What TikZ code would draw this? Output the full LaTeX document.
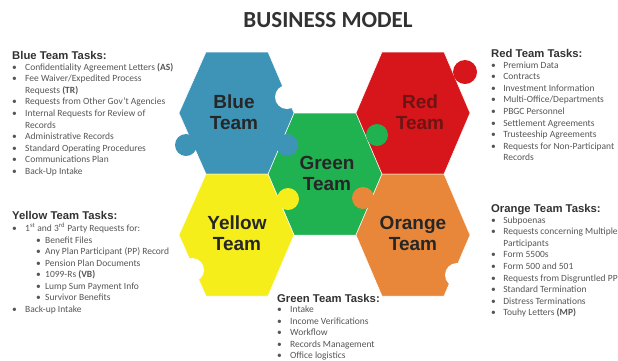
\documentclass[tikz,border=0pt]{standalone}
\usepackage{fontspec}
\setmainfont{Carlito}
\newfontfamily\headfont{Liberation Sans}
\usetikzlibrary{positioning}

\definecolor{bluepc}{RGB}{62,148,183}
\definecolor{redpc}{RGB}{214,22,26}
\definecolor{greenpc}{RGB}{32,178,80}
\definecolor{yellowpc}{RGB}{246,238,26}
\definecolor{orangepc}{RGB}{232,135,58}
\definecolor{headgray}{RGB}{50,50,50}
\definecolor{itemgray}{RGB}{85,85,85}
\definecolor{redlabel}{RGB}{110,20,20}

\newcommand{\bul}[1][13pt]{\makebox[#1][l]{\textbullet}}
\newcommand{\subbul}{\hspace*{24pt}\makebox[9pt][l]{\textbullet}}
\newcommand{\cont}[1][13pt]{\hspace*{#1}}

\tikzset{
    piece/.style={draw=white, line width=0.5pt},
    teamlabel/.style={font=\headfont\bfseries\fontsize{19}{21}\selectfont, align=center, text=black!85, inner sep=0pt},
    taskhead/.style={font=\headfont\bfseries\fontsize{11.3}{13}\selectfont, text=headgray, anchor=base west, inner sep=0pt},
    tasklist/.style={font=\fontsize{9.5}{11.55}\selectfont, text=itemgray, align=left, inner sep=0pt}
}

\begin{document}
\begin{tikzpicture}[x=1pt, y=-1pt]
            \useasboundingbox (0,0) rectangle (618,360);
            % hexagon pieces
            \fill [greenpc, piece] (325,174) ++(-57,0) -- ++(26,-61) -- ++(62,0) -- ++(26,61) -- ++(-26,61) -- ++(-62,0) -- cycle;
            \fill [bluepc, piece] (237,113) ++(-58,0) -- ++(27,-61) -- ++(62,0) -- ++(26,61) -- ++(-26,61) -- ++(-62,0) -- cycle;
            \fill [yellowpc, piece] (237,235) ++(-58,0) -- ++(27,-61) -- ++(62,0) -- ++(26,61) -- ++(-26,61) -- ++(-62,0) -- cycle;
            \fill [redpc, piece] (413,113) ++(-57,0) -- ++(26,-61) -- ++(62,0) -- ++(26,61) -- ++(-26,61) -- ++(-62,0) -- cycle;
            \fill [orangepc, piece] (413,235) ++(-57,0) -- ++(26,-61) -- ++(62,0) -- ++(26,61) -- ++(-26,61) -- ++(-62,0) -- cycle;
            % knobs
            \fill [bluepc] (186,145) circle (11pt);
            \fill [bluepc] (287,145) circle (11pt);
            \fill [greenpc] (377,135) circle (11pt);
            \fill [yellowpc] (288,199) circle (11pt);
            \fill [orangepc] (363,198) circle (11pt);
            \fill [redpc] (465,72) circle (12pt);
            % notches
            \fill [white] (287,97) circle (12pt);
            \fill [white] (457,275) circle (12pt);
            \fill [white] (192,270) circle (12pt);
            % labels
            \node [teamlabel] (bluename) at (234,112) {Blue\\Team};
            \node [teamlabel, text=redlabel] (redname) at (420,112) {Red\\Team};
            \node [teamlabel] (greenname) at (327,173) {Green\\Team};
            \node [teamlabel] (yellowname) at (237,233) {Yellow\\Team};
            \node [teamlabel] (orangename) at (413,233) {Orange\\Team};
            \node [font=\bfseries\fontsize{23}{26}\selectfont, text=headgray, inner sep=0pt] (title) at (328,20) {BUSINESS MODEL};
            % task lists
            \node [taskhead] (bluehead) at (12,59) {Blue Team Tasks:};
            \node [tasklist, below=3pt of bluehead.base west, anchor=north west] (bluelist) {\strut\bul Confidentiality Agreement Letters \textbf{(AS)}\\
                \bul Fee Waiver/Expedited Process\\
                \cont Requests \textbf{(TR)}\\
                \bul Requests from Other Gov't Agencies\\
                \bul Internal Requests for Review of\\
                \cont Records\\
                \bul Administrative Records\\
                \bul Standard Operating Procedures\\
                \bul Communications Plan\\
                \bul Back-Up Intake};
            \node [taskhead] (yellowhead) at (12,219) {Yellow Team Tasks:};
            \node [tasklist, below=4pt of yellowhead.base west, anchor=north west] (yellowlist) {\strut\bul 1\textsuperscript{st} and 3\textsuperscript{rd} Party Requests for:\\
                \subbul Benefit Files\\
                \subbul Any Plan Participant (PP) Record\\
                \subbul Pension Plan Documents\\
                \subbul 1099-Rs \textbf{(VB)}\\
                \subbul Lump Sum Payment Info\\
                \subbul Survivor Benefits\\
                \bul Back-up Intake};
            \node [taskhead] (redhead) at (491,57) {Red Team Tasks:};
            \node [tasklist, below=3pt of redhead.base west, anchor=north west] (redlist) {\strut\bul[10pt] Premium Data\\
                \bul[10pt] Contracts\\
                \bul[10pt] Investment Information\\
                \bul[10pt] Multi-Office/Departments\\
                \bul[10pt] PBGC Personnel\\
                \bul[10pt] Settlement Agreements\\
                \bul[10pt] Trusteeship Agreements\\
                \bul[10pt] Requests for Non-Participant\\
                \cont[10pt] Records};
            \node [taskhead] (orangehead) at (491,212) {Orange Team Tasks:};
            \node [tasklist, below=3pt of orangehead.base west, anchor=north west] (orangelist) {\strut\bul[10pt] Subpoenas\\
                \bul[10pt] Requests concerning Multiple\\
                \cont[10pt] Participants\\
                \bul[10pt] Form 5500s\\
                \bul[10pt] Form 500 and 501\\
                \bul[10pt] Requests from Disgruntled PP\\
                \bul[10pt] Standard Termination\\
                \bul[10pt] Distress Terminations\\
                \bul[10pt] Touhy Letters \textbf{(MP)}};
            \node [taskhead] (greenhead) at (277,302) {Green Team Tasks:};
            \node [tasklist, below=2.5pt of greenhead.base west, anchor=north west] (greenlist) {\strut\bul Intake\\
                \bul Income Verifications\\
                \bul Workflow\\
                \bul Records Management\\
                \bul Office logistics};
\end{tikzpicture}
\end{document}
